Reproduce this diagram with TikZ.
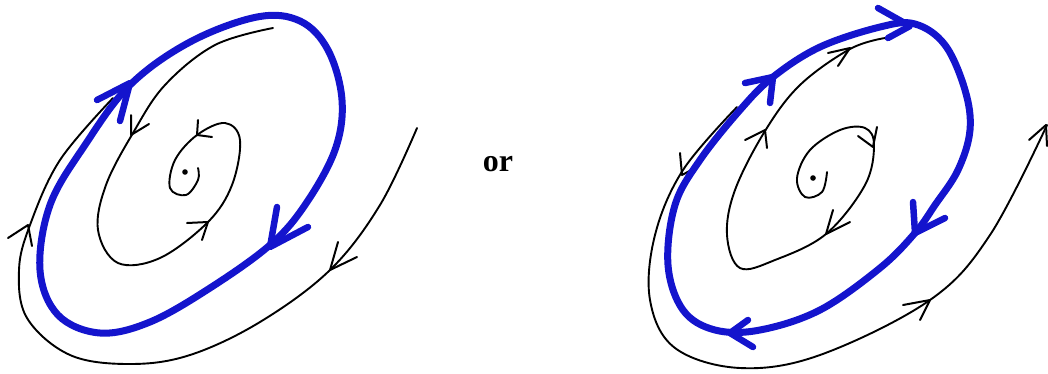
\documentclass[tikz,border=0pt]{standalone}
\usepackage{fontspec}
\setmainfont{Liberation Serif}
\definecolor{cyc}{RGB}{20,20,205}
\begin{document}
\begin{tikzpicture}[x=1pt,y=-1pt,
  traj/.style={black,line width=1.9pt,line cap=round,line join=round},
  cycle/.style={cyc,line width=7pt,line cap=round,line join=round},
  barb/.style={black,line width=2pt,line cap=round,line join=round},
  cbarb/.style={cyc,line width=6.5pt,line cap=round,line join=round}]
\useasboundingbox (0,0) rectangle (1048,373);

% ---------------- LEFT FIGURE ----------------
% outer trajectory
\draw[traj] plot[smooth,tension=0.6] coordinates {(417,128) (380,205) (330,270) (260,322) (190,355) (130,364) (70,355) (27,318) (19,270) (30,225) (60,160) (113,98)};
% inner trajectory
\draw[traj] plot[smooth,tension=0.6] coordinates {(273,28) (215,45) (165,85) (133,133) (106,185) (98,230) (118,263) (160,258) (208,222) (232,185) (240,140) (225,123) (197,135) (175,160) (170,188) (186,195) (198,180) (198,168)};
\fill (185,172) circle (2.8);
% black arrows
\draw[barb] (338,242) -- (330,270) -- (357,257);
\draw[barb] (8,238) -- (28,225) -- (32,246);
\draw[barb] (131,115) -- (131,135) -- (149,124);
\draw[barb] (187,223) -- (208,222) -- (202,240);
\draw[barb] (198,120) -- (197,135) -- (212,137);
% limit cycle
\draw[cycle] plot[smooth cycle,tension=0.6] coordinates {(257,17) (300,21) (328,50) (342,100) (335,150) (305,205) (270,245) (210,288) (150,322) (100,333) (58,315) (40,270) (50,205) (85,145) (130,85) (190,42)};
\draw[cbarb] (97,100) -- (130,83) -- (120,121);
\draw[cbarb] (277,207) -- (270,247) -- (308,227);

% ---------------- TEXT ----------------
\node[font=\fontsize{32}{32}\selectfont\bfseries,inner sep=0pt] (or) at (498,164) {or};

% ---------------- RIGHT FIGURE ----------------
% outer trajectory
\draw[traj] plot[smooth,tension=0.6] coordinates {(737,107) (683,170) (655,235) (650,300) (675,348) (740,368) (820,355) (930,300) (990,235) (1047,125)};
% inner trajectory
\draw[traj] plot[smooth,tension=0.6] coordinates {(827,172) (822,192) (805,197) (797,178) (810,150) (840,130) (865,128) (874,145) (865,185) (826,234) (775,260) (740,268) (727,235) (735,190) (765,131) (800,85) (850,49) (885,38)};
\fill (813,178) circle (2.8);
% black arrows
\draw[barb] (680,153) -- (682,175) -- (697,167);
\draw[barb] (903,305) -- (930,300) -- (920,320);
\draw[barb] (1029,140) -- (1046,125) -- (1047,146);
\draw[barb] (828,53) -- (850,48) -- (838,66);
\draw[barb] (745,140) -- (765,130) -- (767,148);
\draw[barb] (858,136) -- (873,147) -- (877,127);
\draw[barb] (833,210) -- (826,234) -- (850,222);
% limit cycle
\draw[cycle] plot[smooth cycle,tension=0.6] coordinates {(880,27) (915,24) (945,45) (965,90) (970,130) (958,170) (935,205) (915,233) (880,268) (820,310) (760,330) (715,330) (683,310) (668,265) (675,205) (700,160) (740,110) (773,77) (820,47)};
\draw[cbarb] (745,83) -- (773,77) -- (770,103);
\draw[cbarb] (878,8) -- (910,26) -- (888,38);
\draw[cbarb] (913,202) -- (915,233) -- (945,218);
\draw[cbarb] (748,320) -- (730,333) -- (753,347);
\end{tikzpicture}
\end{document}
